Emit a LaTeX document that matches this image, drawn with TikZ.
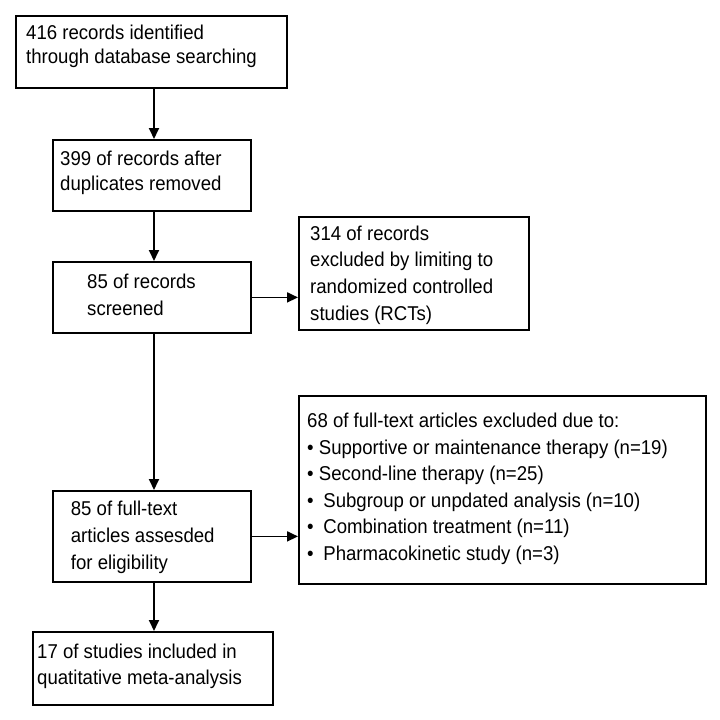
\documentclass[tikz,border=0pt]{standalone}
\usepackage{fontspec}
\setmainfont[FakeStretch=0.93]{Liberation Sans}
\usetikzlibrary{arrows.meta}
\tikzset{
  box/.style={draw, line width=1.8pt, inner sep=0pt, anchor=north west},
  txt/.style={anchor=north west, inner sep=0pt, align=left,
    font=\fontsize{20}{#1}\selectfont},
  txt/.default=26.6pt,
  arr/.style={line width=1.8pt, -{Triangle[length=11pt,width=10pt]}}
}
\newcommand{\fl}{\rule{0pt}{18pt}}
\begin{document}
\begin{tikzpicture}[x=1pt,y=-1pt]
\useasboundingbox[fill=white] (0,0) rectangle (720,720);
% boxes
\node[box, minimum width=271pt, minimum height=72pt] (b1) at (15,15) {};
\node[box, minimum width=198pt, minimum height=71pt] (b2) at (52,139) {};
\node[box, minimum width=198pt, minimum height=71pt] (b3) at (52,261) {};
\node[box, minimum width=230pt, minimum height=113pt] (b4) at (298,216) {};
\node[box, minimum width=407pt, minimum height=188pt] (b5) at (298,395) {};
\node[box, minimum width=198pt, minimum height=91pt] (b6) at (52,490) {};
\node[box, minimum width=240pt, minimum height=73pt] (b7) at (32,631) {};
% texts
\node[txt=24pt] (t1) at (26,21.5) {\fl 416 records identified\\through database searching};
\node[txt=25.5pt] (t2) at (60,147) {\fl 399 of records after\\duplicates removed};
\node[txt] (t3) at (87,270.3) {\fl 85 of records\\screened};
\node[txt] (t4) at (310,222) {\fl 314 of records\\excluded by limiting to\\randomized controlled\\studies (RCTs)};
\node[txt] (t5) at (307,409.3) {\fl 68 of full-text articles excluded due to:\\
• Supportive or maintenance therapy (n=19)\\
• Second-line therapy (n=25)\\
•\hspace{4.5pt} Subgroup or unpdated analysis (n=10)\\
•\hspace{4.5pt} Combination treatment (n=11)\\
•\hspace{4.5pt} Pharmacokinetic study (n=3)};
\node[txt] (t6) at (70.7,497.7) {\fl 85 of full-text\\articles assesded\\for eligibility};
\node[txt] (t7) at (37,640) {\fl 17 of studies included in\\quatitative meta-analysis};
% connectors
\coordinate (ax) at (154,0);
\draw[arr] (b1.south -| ax) -- (b2.north -| ax);
\draw[arr] (b2.south -| ax) -- (b3.north -| ax);
\draw[arr] (b3.south -| ax) -- (b6.north -| ax);
\draw[arr] (b6.south -| ax) -- (b7.north -| ax);
\draw[arr] (b3.east) -- (b4.west |- b3.east);
\draw[arr] (b6.east) -- (b5.west |- b6.east);
\end{tikzpicture}
\end{document}
